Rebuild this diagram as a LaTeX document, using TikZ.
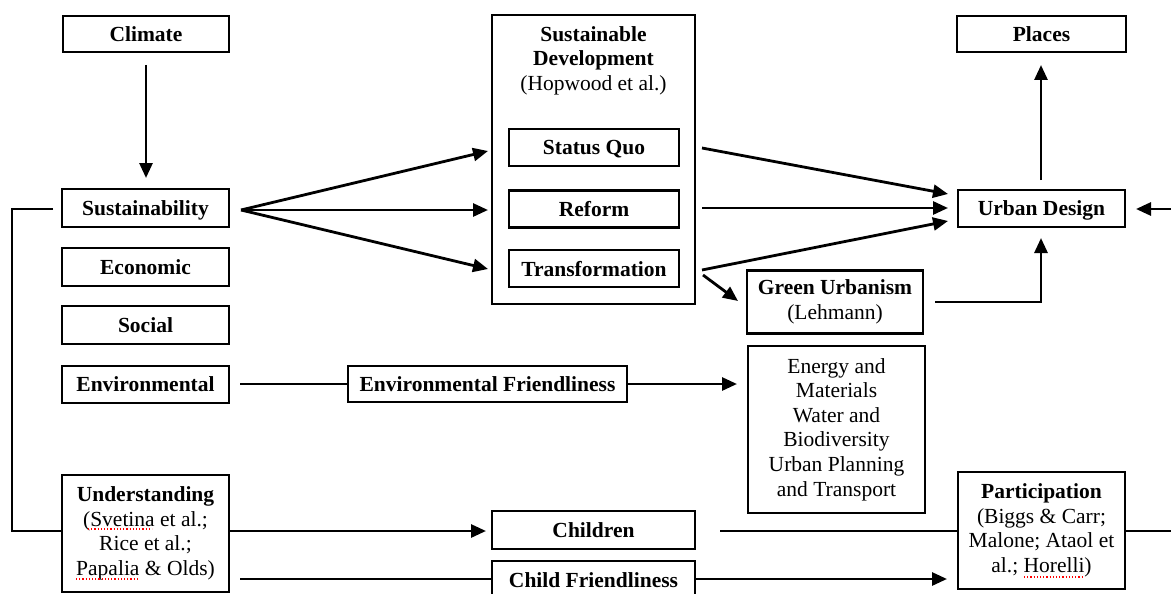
\documentclass[tikz,border=0pt]{standalone}
\usepackage{fontspec}
\setmainfont{Liberation Serif}
\usetikzlibrary{arrows.meta}
\begin{document}
\begin{tikzpicture}[x=1pt,y=-1pt,
  every node/.style={font=\fontsize{21.5}{24.6}\selectfont, align=center, inner sep=0pt},
  thickbox/.style={draw, line width=2.9pt, font=\fontsize{21.5}{24.6}\selectfont\bfseries, text depth=0pt},
  thinbox/.style={draw, line width=1.6pt},
  boldthin/.style={thinbox, font=\fontsize{21.5}{24.6}\selectfont\bfseries, text depth=0pt},
  conn/.style={line width=2.8pt},
  arr/.style={conn, -{Triangle[length=15pt,width=13pt]}},
  squig/.style={red, dotted, line width=1.2pt}]
\useasboundingbox (0,0) rectangle (1171,594);
\clip (0,0) rectangle (1171,594);
% top row
\node[thickbox, minimum width=166pt, minimum height=36pt] (climate) at (146,34) {Climate};
\node[thickbox, minimum width=169pt, minimum height=36pt] (places) at (1041.5,34) {Places};
% sustainable development
\node[draw, line width=2.9pt, minimum width=203pt, minimum height=289pt] (sd) at (593.5,159.5) {};
\node (sdtitle) at (593.5,60.5) {\textbf{Sustainable}\\\textbf{Development}\\(Hopwood et al.)};
\node[thickbox, minimum width=170pt, minimum height=37pt] (sq) at (594,147.5) {Status Quo};
\node[thickbox, minimum width=170pt, minimum height=37pt] (ref) at (594,209) {Reform};
\node[thickbox, minimum width=170pt, minimum height=37pt] (tr) at (594,268.5) {Transformation};
% left column
\node[thickbox, minimum width=167pt, minimum height=38pt] (sus) at (145.5,208) {Sustainability};
\node[boldthin, minimum width=167pt, minimum height=38pt] (eco) at (145.5,267) {Economic};
\node[boldthin, minimum width=167pt, minimum height=38pt] (soc) at (145.5,325) {Social};
\node[boldthin, minimum width=167pt, minimum height=37pt] (env) at (145.5,384.5) {Environmental};
\node[thinbox, minimum width=167pt, minimum height=117pt] (und) at (145.5,533.5) {\textbf{Understanding}\\(Svetina et al.;\\Rice et al.;\\Papalia \& Olds)};
% right side
\node[thickbox, minimum width=167pt, minimum height=37pt] (ud) at (1041.5,208.5) {Urban Design};
\node[draw, line width=2.9pt, minimum width=176pt, minimum height=63pt] (gu) at (835,302) {\textbf{Green Urbanism}\\(Lehmann)};
\node[thinbox, minimum width=177pt, minimum height=167pt] (em) at (836.5,429.5) {Energy and\\Materials\\Water and\\Biodiversity\\Urban Planning\\and Transport};
\node[boldthin, minimum width=279pt, minimum height=36pt] (ef) at (487.5,384) {Environmental Friendliness};
\node[thinbox, minimum width=167pt, minimum height=117pt] (par) at (1041.5,530.5) {\textbf{Participation}\\(Biggs \& Carr;\\Malone; Ataol et\\al.; Horelli)};
% bottom middle
\node[thickbox, minimum width=203pt, minimum height=38pt] (ch) at (593.5,530) {Children};
\node[thinbox, minimum width=203pt, minimum height=40pt] (cf) at (593.5,581) {};
\node[font=\fontsize{21.5}{24.6}\selectfont\bfseries, text depth=0pt] (cft) at (593.5,580) {Child Friendliness};
% coordinates
\coordinate (c1) at (146,65);
\coordinate (c2) at (146,178);
\coordinate (s0) at (241,210);
\coordinate (sqin) at (488,151);
\coordinate (refin) at (488,210);
\coordinate (trin) at (488,269);
\coordinate (sqout) at (702,148);
\coordinate (refout) at (702,208);
\coordinate (trout) at (702,270);
\coordinate (ud1) at (948,194);
\coordinate (ud2) at (948,208);
\coordinate (ud3) at (948,221);
\coordinate (trg) at (703,275);
\coordinate (gin) at (738,301);
\coordinate (gout) at (935,302);
\coordinate (udbot) at (1041,238);
\coordinate (udtop) at (1041,180);
\coordinate (plbot) at (1041,65);
\coordinate (rin) at (1171,209);
\coordinate (udr) at (1136,209);
\coordinate (l0) at (53,209);
\coordinate (l1) at (12,209);
\coordinate (l2) at (12,531);
\coordinate (envo) at (240,384);
\coordinate (emin) at (737,384);
\coordinate (chin) at (486,531);
\coordinate (cho) at (720,531);
\coordinate (rout) at (1171,531);
\coordinate (u2) at (240,579);
\coordinate (pin) at (947,579);
% connectors
\draw[arr] (c1) -- (c2);
\draw[arr] (s0) -- (sqin);
\draw[arr] (s0) -- (refin);
\draw[arr] (s0) -- (trin);
\draw[arr] (sqout) -- (ud1);
\draw[arr] (refout) -- (ud2);
\draw[arr] (trout) -- (ud3);
\draw[arr] (trg) -- (gin);
\draw[arr] (gout) -| (udbot);
\draw[arr] (udtop) -- (plbot);
\draw[arr] (rin) -- (udr);
\draw[conn] (l0) -- (l1) -- (l2) -- (und.west |- l2);
\draw[arr] (und.east |- l2) -- (chin);
\draw[conn] (cho) -- (par.west |- cho);
\draw[conn] (par.east |- cho) -- (rout);
\draw[conn] (envo) -- (ef.west);
\draw[arr] (ef.east) -- (emin);
\draw[conn] (u2) -- (cf.west |- u2);
\draw[arr] (cf.east |- u2) -- (pin);
% spell-check underlines
\draw[squig] (88,529) -- (152,529);
\draw[squig] (76,579) -- (138,579);
\draw[squig] (1024,577) -- (1084,577);
\end{tikzpicture}
\end{document}
